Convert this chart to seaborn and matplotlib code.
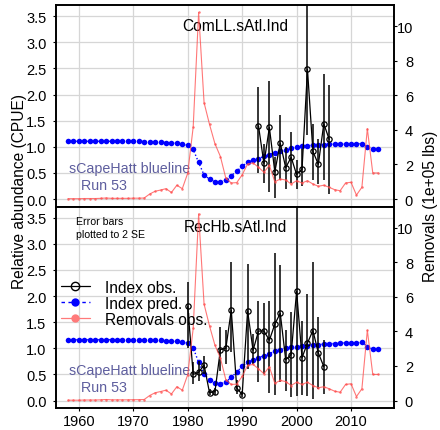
import matplotlib
matplotlib.use("Agg")

import matplotlib.pyplot as plt
from matplotlib.lines import Line2D
import numpy as np
import seaborn as sns

# ---- data ----
years = list(range(1958, 2016))

pred_com = [
    1.105, 1.105, 1.105, 1.105, 1.105, 1.105, 1.105, 1.105, 1.105, 1.105,
    1.105, 1.105, 1.105, 1.105, 1.10, 1.10, 1.09, 1.09, 1.08, 1.075,
    1.07, 1.05, 1.03, 0.95, 0.70, 0.46, 0.38, 0.33, 0.33, 0.36,
    0.45, 0.53, 0.63, 0.70, 0.745, 0.775, 0.815, 0.85, 0.89, 0.92,
    0.94, 0.97, 0.99, 1.01, 1.02, 1.03, 1.04, 1.04, 1.05, 1.05,
    1.06, 1.05, 1.05, 1.06, 1.06, 0.99, 0.95, 0.95,
]
pred_rec = [
    1.165, 1.165, 1.165, 1.165, 1.165, 1.165, 1.165, 1.165, 1.165, 1.165,
    1.165, 1.165, 1.165, 1.165, 1.16, 1.16, 1.15, 1.15, 1.14, 1.135,
    1.13, 1.12, 1.10, 1.01, 0.73, 0.51, 0.40, 0.34, 0.32, 0.35,
    0.45, 0.54, 0.66, 0.73, 0.78, 0.82, 0.86, 0.90, 0.94, 0.975,
    1.00, 1.02, 1.03, 1.035, 1.05, 1.065, 1.07, 1.08, 1.09, 1.09,
    1.11, 1.10, 1.10, 1.10, 1.12, 1.03, 0.98, 0.98,
]
removals = [
    0.02, 0.02, 0.02, 0.03, 0.03, 0.03, 0.04, 0.06, 0.04, 0.04,
    0.04, 0.04, 0.05, 0.05, 0.06, 0.29, 0.45, 0.52, 0.60, 0.38,
    0.80, 0.60, 1.50, 4.17, 10.8, 5.58, 4.32, 3.20, 2.46, 1.20,
    0.93, 0.95, 1.40, 2.03, 2.09, 1.84, 1.55, 1.95, 1.00, 1.16,
    1.10, 0.87, 1.06, 0.93, 1.06, 0.87, 0.74, 0.80, 0.68, 0.54,
    0.48, 0.93, 0.97, 0.23, 0.68, 4.07, 1.51, 1.51,
]

years_com = list(range(1993, 2007))
obs_com = [1.40, 0.68, 1.37, 0.52, 1.07, 0.60, 0.80, 0.47, 0.57, 2.48, 0.91, 0.665, 1.44, 1.14]
lo_com = [0.50, 0.30, 0.14, 0.02, 0.36, 0.20, 0.30, 0.20, 0.25, 1.22, 0.36, 0.28, 0.36, 0.09]
hi_com = [2.14, 1.06, 2.26, 0.80, 1.60, 1.00, 1.28, 0.74, 0.95, 4.50, 1.44, 1.15, 2.39, 2.19]

years_rec = list(range(1980, 2006))
obs_rec = [1.80, 0.50, 0.54, 0.68, 0.15, 0.17, 0.975, 1.00, 1.73, 0.24, 0.115, 1.715, 0.96,
           1.33, 1.33, 1.155, 1.46, 1.67, 0.78, 0.88, 2.09, 0.82, 1.10, 1.34, 0.91, 0.65]
lo_rec = [1.00, 0.32, 0.38, 0.51, 0.10, 0.11, 0.57, 0.70, 0.93, 0.12, 0.07, 0.61, 0.70,
          0.35, 0.50, 0.15, 0.10, 0.35, 0.19, 0.06, 0.08, 0.11, 0.09, 0.03, 0.22, 0.13]
hi_rec = [2.26, 0.73, 0.76, 0.86, 0.22, 0.24, 1.40, 1.35, 2.66, 0.40, 0.18, 2.61, 1.28,
          1.91, 1.87, 1.91, 2.82, 2.60, 1.35, 1.69, 5.00, 1.52, 2.04, 2.65, 1.59, 1.16]

panels = [
    ("ComLL.sAtl.Ind", pred_com, years_com, obs_com, lo_com, hi_com),
    ("RecHb.sAtl.Ind", pred_rec, years_rec, obs_rec, lo_rec, hi_rec),
]

# ---- style ----
sns.set_theme(style="white")
plt.rcParams["font.family"] = ["Liberation Sans", "DejaVu Sans"]
plt.rcParams.update({
    "axes.edgecolor": "black",
    "axes.linewidth": 1.2,
    "xtick.color": "black",
    "ytick.color": "black",
    "text.color": "black",
})

RED = "#FF4A4A"
BLUE = "#0000FF"
SLATE = "#5E5E9E"
FS_TICK = 10.5
FS_TXT = 11.2

fig = plt.figure(figsize=(4.4, 4.31), dpi=100)
ax_h = 201.5 / 431
ax_l = 55.5 / 440
ax_w = 338.5 / 440
bottoms = [1 - 207.5 / 431, 1 - 409 / 431]

for i, (title, pred, yo, obs, lo, hi) in enumerate(panels):
    ax = fig.add_axes([ax_l, bottoms[i], ax_w, ax_h])
    ax2 = ax.twinx()

    ax.set_xlim(1955.7, 2017.9)
    ax.set_ylim(-0.1428, 3.7128)
    ax2.set_ylim(-0.432, 11.232)

    ax.set_xticks([1960, 1970, 1980, 1990, 2000, 2010])
    ax.set_yticks([0, 0.5, 1.0, 1.5, 2.0, 2.5, 3.0, 3.5])
    ax.set_yticklabels([f"{v:.1f}" for v in ax.get_yticks()])
    ax2.set_yticks([0, 2, 4, 6, 8, 10])
    ax.grid(True, color="#D6D6D6", linewidth=0.9)
    ax.set_axisbelow(True)

    # predicted index
    sns.lineplot(x=years, y=pred, ax=ax, color=BLUE, linestyle=":", linewidth=1.0,
                 marker="o", markersize=4.0, markeredgewidth=0, zorder=3)
    # observed index with 2 SE bars
    ax.vlines(yo, lo, hi, color="black", linewidth=1.1, zorder=4)
    sns.lineplot(x=yo, y=obs, ax=ax, color="black", linewidth=0.9,
                 marker="o", markersize=3.8, markerfacecolor="none",
                 markeredgecolor="black", markeredgewidth=0.9, zorder=5)
    # removals on the right axis
    sns.lineplot(x=years, y=removals, ax=ax2, color=RED, linewidth=0.8, alpha=0.75,
                 marker="o", markersize=1.8, markeredgewidth=0)

    for a in (ax, ax2):
        a.set_xlabel("")
        a.set_ylabel("")
        for sp in a.spines.values():
            sp.set_linewidth(1.2)
            sp.set_color("black")

    ax.tick_params(axis="y", direction="out", length=2.5, width=0.8, pad=4,
                   labelsize=FS_TICK, left=True)
    ax2.tick_params(axis="y", direction="out", length=2.5, width=0.8, pad=11.2,
                    labelsize=FS_TICK, right=True)
    for lbl in ax2.get_yticklabels():
        lbl.set_horizontalalignment("right")
    if i == 0:
        ax.tick_params(axis="x", bottom=False, labelbottom=False)
    else:
        ax.tick_params(axis="x", direction="out", length=2.5, width=0.8, pad=1.5,
                       labelsize=FS_TICK, bottom=True)

    ax.text(0.532, 0.90, title, transform=ax.transAxes, ha="center", va="center",
            fontsize=FS_TXT)
    ax.text(0.04, 0.19, "sCapeHatt blueline", transform=ax.transAxes, ha="left",
            va="center", fontsize=10.3, color=SLATE)
    ax.text(0.075, 0.105, "Run 53", transform=ax.transAxes, ha="left",
            va="center", fontsize=10.3, color=SLATE)

    if i == 1:
        ax.text(0.0605, 0.93, "Error bars", transform=ax.transAxes, ha="left",
                va="center", fontsize=7.6)
        ax.text(0.0605, 0.864, "plotted to 2 SE", transform=ax.transAxes, ha="left",
                va="center", fontsize=7.6)
        handles = [
            Line2D([], [], color="black", linewidth=0.9, marker="o", markersize=6,
                   markerfacecolor="none", markeredgewidth=1.0),
            Line2D([], [], color=BLUE, linestyle=(0, (2.5, 2.5)), linewidth=1.0,
                   marker="o", markersize=6, markeredgewidth=0),
            Line2D([], [], color="#FF7A7A", linewidth=0.9, marker="o", markersize=6,
                   markeredgewidth=0),
        ]
        ax2.legend(handles, ["Index obs.", "Index pred.", "Removals obs."],
                   loc="upper left", bbox_to_anchor=(0.015, 0.637), frameon=False,
                   fontsize=FS_TXT, borderpad=0, borderaxespad=0, handlelength=1.9,
                   handletextpad=0.95, labelspacing=0.07)

fig.text(19.5 / 440, 1 - 191.5 / 431, "Relative abundance (CPUE)", rotation=90,
         ha="center", va="center", fontsize=FS_TXT)
fig.text(430 / 440, 1 - 206.5 / 431, "Removals (1e+05 lbs)", rotation=90,
         ha="center", va="center", fontsize=FS_TXT)

fig.savefig("out.png", dpi=100)
